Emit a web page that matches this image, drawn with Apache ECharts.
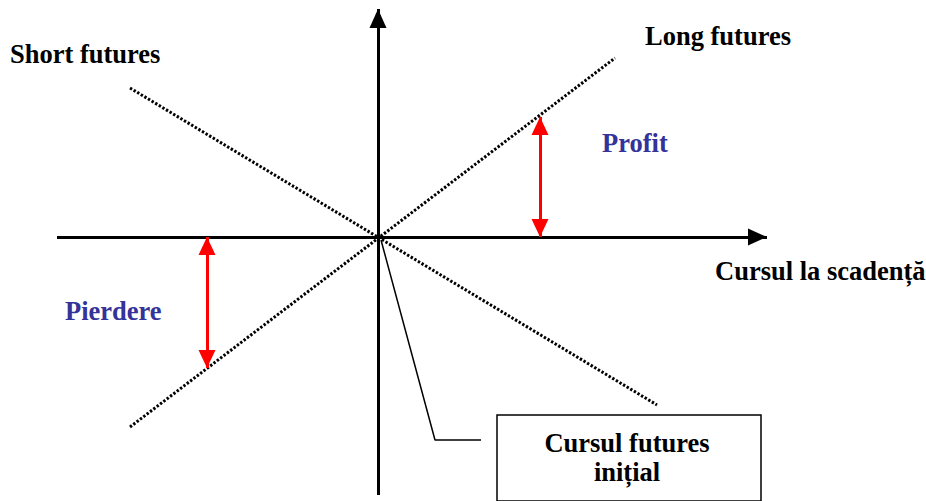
<!DOCTYPE html>
<html>
<head>
<meta charset="utf-8">
<script src="https://cdn.jsdelivr.net/npm/echarts@6/dist/echarts.min.js"></script>
<style>html,body{margin:0;padding:0;background:#fff}#c{width:926px;height:501px}</style>
</head>
<body>
<div id="c"></div>
<script>
// Conceptual units: x = price at maturity relative to initial futures price, y = profit/loss
const longFutures = [[-248, -190], [237, 179]];
const shortFutures = [[-248, 149], [279, -168]];
const xAxisArrow = [[-321, 0], [389, 0]];
const yAxisArrow = [[0, -258], [0, 228]];
const profitArrow = [[162, 0], [162, 120]];
const lossArrow = [[-171, 0], [-171, -131]];
const leader = [[3, -3], [57, -203], [103, -203]];
const box = [[119, -178], [383, -300]];

const labels = {
  short: 'Short futures',
  long: 'Long futures',
  profit: 'Profit',
  loss: 'Pierdere',
  xTitle: 'Cursul la scadență',
  boxText: 'Cursul futures\ninițial'
};

const chart = echarts.init(document.getElementById('c'), null, {renderer: 'svg'});
const font = '"Liberation Serif","Times New Roman",serif';
const blue = '#333399';

chart.setOption({
  animation: false,
  grid: {left: 0, right: 0, top: 0, bottom: 0},
  xAxis: {type: 'value', min: -378, max: 548, show: false},
  yAxis: {type: 'value', min: -264, max: 237, show: false},
  series: [
    {
      type: 'line', data: leader, symbol: 'none', z: 1,
      lineStyle: {color: '#000', width: 1.5},
      markArea: {
        silent: true,
        itemStyle: {color: '#fff', borderColor: '#000', borderWidth: 1.5},
        data: [[{coord: box[0]}, {coord: box[1]}]]
      }
    },
    {
      type: 'line', name: labels.long, data: longFutures, symbol: 'none', z: 2,
      lineStyle: {color: '#000', width: 3, type: [2.4, 1.8]}
    },
    {
      type: 'line', name: labels.short, data: shortFutures, symbol: 'none', z: 2,
      lineStyle: {color: '#000', width: 3, type: [2.4, 1.8]}
    },
    {
      type: 'line', data: [], z: 3,
      markLine: {
        silent: true, animation: false,
        label: {show: false},
        symbol: ['none', 'triangle'],
        symbolSize: [17, 19],
        symbolOffset: [[0, 0], [0, 9.5]],
        lineStyle: {color: '#000', width: 3, type: 'solid'},
        data: [
          [{coord: xAxisArrow[0]}, {coord: xAxisArrow[1]}],
          [{coord: yAxisArrow[0]}, {coord: yAxisArrow[1]}]
        ]
      }
    },
    {
      type: 'line', data: [], z: 4,
      markLine: {
        silent: true, animation: false,
        label: {show: false},
        symbol: ['triangle', 'triangle'],
        symbolSize: [17, 18],
        symbolOffset: [[0, 9], [0, 9]],
        lineStyle: {color: '#ff0000', width: 3, type: 'solid'},
        itemStyle: {color: '#ff0000'},
        data: [
          [{coord: profitArrow[0]}, {coord: profitArrow[1]}],
          [{coord: lossArrow[0]}, {coord: lossArrow[1]}]
        ]
      }
    }
  ],
  graphic: [
    {type: 'text', left: 10, top: 40, style: {text: labels.short, font: 'bold 26.5px ' + font, fill: '#000'}},
    {type: 'text', left: 645, top: 22, style: {text: labels.long, font: 'bold 26.5px ' + font, fill: '#000'}},
    {type: 'text', left: 602, top: 129, style: {text: labels.profit, font: 'bold 26.5px ' + font, fill: blue}},
    {type: 'text', left: 65, top: 297, style: {text: labels.loss, font: 'bold 26.5px ' + font, fill: blue}},
    {type: 'text', left: 715, top: 257, style: {text: labels.xTitle, font: 'bold 26.5px ' + font, fill: '#000'}},
    {type: 'text', x: 627, y: 428, z: 10, style: {text: labels.boxText, font: 'bold 26.5px ' + font, fill: '#000', align: 'center', lineHeight: 29}}
  ]
});
</script>
</body>
</html>
